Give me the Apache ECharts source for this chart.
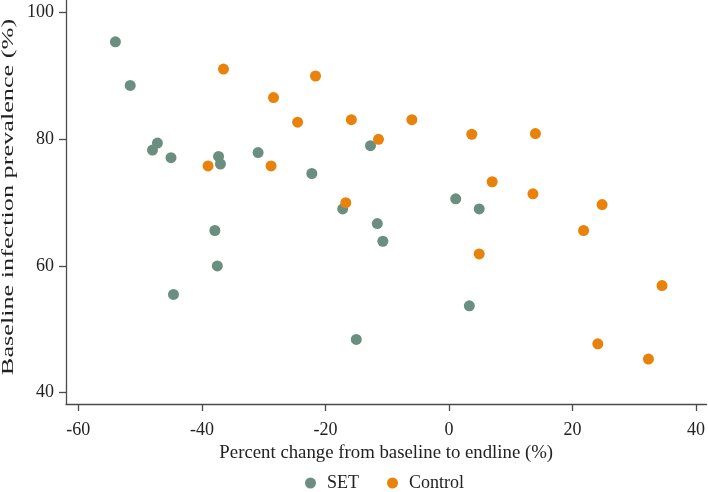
<!DOCTYPE html>
<html>
<head>
<meta charset="utf-8">
<script src="https://cdn.jsdelivr.net/npm/echarts@6/dist/echarts.min.js"></script>
<style>html,body{margin:0;padding:0;background:#fff}#c{width:708px;height:492px}</style>
</head>
<body>
<div id="c"></div>
<script>
const setX = [-54.0, -51.6, -47.2, -48.0, -45.0, -37.3, -37.0, -30.9, -22.2, -12.7, -37.9, -37.5, -44.6, -17.2, -11.6, -10.7, -15.0, 1.1, 4.9, 3.3];
const setY = [95.4, 88.5, 79.4, 78.3, 77.1, 77.3, 76.1, 77.9, 74.6, 79.0, 65.6, 60.0, 55.5, 69.0, 66.7, 63.9, 48.4, 70.6, 69.0, 53.7];
const ctrlX = [-36.5, -21.6, -28.4, -15.8, -6.0, -24.5, 3.7, 14.0, -11.4, -39.0, -28.8, 7.0, 13.6, -16.7, 24.8, 21.8, 4.9, 34.5, 24.1, 32.3];
const ctrlY = [91.1, 90.0, 86.6, 83.1, 83.1, 82.7, 80.8, 80.9, 80.0, 75.8, 75.8, 73.3, 71.4, 70.0, 69.7, 65.6, 61.9, 56.9, 47.7, 45.3];
const xTicks = [-60, -40, -20, 0, 20, 40];
const yTicks = [40, 60, 80, 100];
const seriesNames = ['SET', 'Control'];
const xTitle = 'Percent change from baseline to endline (%)';
const yTitle = 'Baseline infection prevalence (%)';

const font = '"Liberation Serif", "Times New Roman", serif';
const axisColor = '#4a4a4a';
const chart = echarts.init(document.getElementById('c'));
const zip = (a, b) => a.map((v, i) => [v, b[i]]);
chart.setOption({
  animation: false,
  textStyle: { fontFamily: font },
  grid: { left: 66, right: 1, top: 0, bottom: 88, containLabel: false },
  legend: {
    data: seriesNames,
    top: 474,
    left: 305,
    padding: 0,
    icon: 'circle',
    itemWidth: 11,
    itemHeight: 11,
    itemGap: 28,
    textStyle: { fontFamily: font, fontSize: 18, color: '#222', padding: [0, 0, 0, 6] }
  },
  graphic: [{
    type: 'text',
    x: 9,
    y: 197,
    rotation: Math.PI / 2,
    scaleX: 1.64,
    style: { text: yTitle, font: '16px ' + font, fill: '#222', align: 'center', verticalAlign: 'middle' }
  }],
  xAxis: {
    type: 'value',
    min: -62,
    max: 41.7,
    name: xTitle,
    nameLocation: 'middle',
    nameGap: 33,
    nameTextStyle: { fontFamily: font, fontSize: 18.8, color: '#222' },
    axisLine: { show: true, onZero: false, lineStyle: { color: axisColor, width: 1.3 } },
    axisTick: { show: true, length: 7, customValues: xTicks, lineStyle: { color: axisColor, width: 1.3 } },
    axisLabel: { customValues: xTicks, fontFamily: font, fontSize: 18, color: '#222', margin: 17 },
    splitLine: { show: false }
  },
  yAxis: {
    type: 'value',
    min: 38.2,
    max: 102,
    axisLine: { show: true, onZero: false, lineStyle: { color: axisColor, width: 1.3 } },
    axisTick: { show: true, length: 7, customValues: yTicks, lineStyle: { color: axisColor, width: 1.3 } },
    axisLabel: { customValues: yTicks, fontFamily: font, fontSize: 18, color: '#222', margin: 12 },
    splitLine: { show: false }
  },
  series: [
    { name: seriesNames[0], type: 'scatter', symbol: 'circle', symbolSize: 11,
      itemStyle: { color: '#6a8f80', opacity: 1 }, data: zip(setX, setY) },
    { name: seriesNames[1], type: 'scatter', symbol: 'circle', symbolSize: 11,
      itemStyle: { color: '#e8820a', opacity: 1 }, data: zip(ctrlX, ctrlY) }
  ]
});
</script>
</body>
</html>
